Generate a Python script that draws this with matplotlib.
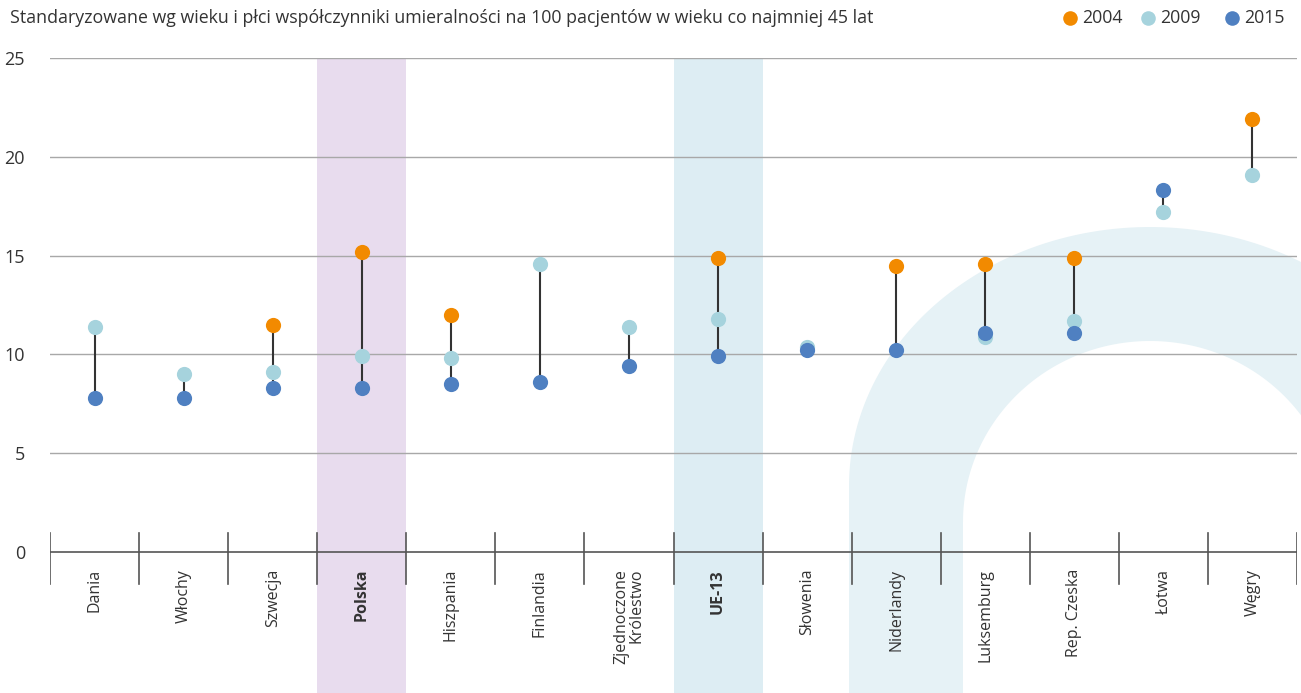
import numpy as np
import matplotlib.pyplot as plt
from matplotlib.patches import Polygon
from matplotlib.lines import Line2D

plt.rcParams['font.family'] = ['Open Sans', 'DejaVu Sans']

# Data
countries = ['Dania', 'Włochy', 'Szwecja', 'Polska', 'Hiszpania', 'Finlandia',
             'Zjednoczone\nKrólestwo', 'UE-13', 'Słowenia', 'Niderlandy',
             'Luksemburg', 'Rep. Czeska', 'Łotwa', 'Węgry']
v2004 = [np.nan, np.nan, 11.5, 15.2, 12.0, np.nan, np.nan, 14.9, np.nan, 14.5,
         14.6, 14.9, np.nan, 21.9]
v2009 = [11.4, 9.0, 9.1, 9.9, 9.8, 14.6, 11.4, 11.8, 10.4, np.nan,
         10.9, 11.7, 17.2, 19.1]
v2015 = [7.8, 7.8, 8.3, 8.3, 8.5, 8.6, 9.4, 9.9, 10.2, 10.2,
         11.1, 11.1, 18.3, np.nan]
yticks = [0, 5, 10, 15, 20, 25]
bold = ['Polska', 'UE-13']

c2004 = '#f28a00'
c2009 = '#a6d3dd'
c2015 = '#4f80c1'

W, H = 1301, 693
fig = plt.figure(figsize=(W / 100, H / 100), dpi=100)

ax = fig.add_axes([50 / W, 0, 1247 / W, 1 - 58 / H])
ax.patch.set_alpha(0)
n = len(countries)
ax.set_xlim(0, n)
ax.set_ylim(-7.13, 25)

# decorative arch in background (figure pixel coordinates)
cx, yb = 1150, 700
ao, bo, cyo = 301, 259, 486
ai, bi, cyi = 187, 181, 522
t = np.linspace(np.pi, 0, 120)
outer = [(cx + ao * np.cos(a), cyo - bo * np.sin(a)) for a in t]
inner = [(cx + ai * np.cos(a), cyi - bi * np.sin(a)) for a in t[::-1]]
pts = [(cx - ao, yb)] + outer + [(cx + ao, yb), (cx + ai, yb)] + inner + [(cx - ai, yb)]
pts = [(x / W, 1 - y / H) for x, y in pts]
arch = Polygon(pts, closed=True, transform=fig.transFigure,
               facecolor='#e6f2f6', edgecolor='none', zorder=0.5, clip_on=False)
ax.add_artist(arch)

# highlight bands
ax.axvspan(3, 4, color='#e8dcee', zorder=0.4, lw=0)
ax.axvspan(7, 8, color='#ddedf3', zorder=0.4, lw=0)

for y in yticks[1:]:
    ax.axhline(y, color='#a8a8a8', lw=1, zorder=1)
ax.axhline(0, color='#555555', lw=1.2, zorder=1)
for i in range(n + 1):
    ax.plot([i, i], [0.96, -1.62], color='#555555', lw=1.2, zorder=1)

x = np.arange(n) + 0.5
for i in range(n):
    vals = [v for v in (v2004[i], v2009[i], v2015[i]) if not np.isnan(v)]
    ax.plot([x[i], x[i]], [min(vals), max(vals)], color='#333333', lw=1.5, zorder=2)

ax.scatter(x, v2004, s=120, color=c2004, zorder=3, lw=0)
ax.scatter(x, v2009, s=120, color=c2009, zorder=4, lw=0)
ax.scatter(x, v2015, s=120, color=c2015, zorder=5, lw=0)

for i, name in enumerate(countries):
    ax.text(x[i], -0.85, name, rotation=90, ha='center', va='top', fontsize=11.5,
            color='#333333', linespacing=1.0, zorder=6, multialignment='right',
            fontweight='bold' if name in bold else 'normal')

ax.set_yticks(yticks)
ax.set_yticklabels([str(v) for v in yticks], fontsize=13, color='#333333')
ax.tick_params(axis='y', length=0, pad=18)
ax.set_xticks([])
for s in ax.spines.values():
    s.set_visible(False)

fig.text(10 / W, 1 - 18 / H, 'Standaryzowane wg wieku i płci współczynniki umieralności na 100 pacjentów w wieku co najmniej 45 lat',
         fontsize=12.8, color='#333333', va='center', ha='left')

for px, lab, col in [(1070, '2004', c2004), (1148, '2009', c2009), (1232, '2015', c2015)]:
    fig.add_artist(Line2D([px / W], [1 - 18 / H], marker='o', markersize=10.5, color=col,
                          markeredgewidth=0, linestyle='none', transform=fig.transFigure))
    fig.text((px + 12) / W, 1 - 18 / H, lab, fontsize=12.8, color='#333333', va='center', ha='left')

fig.savefig('out.png', dpi=100)
